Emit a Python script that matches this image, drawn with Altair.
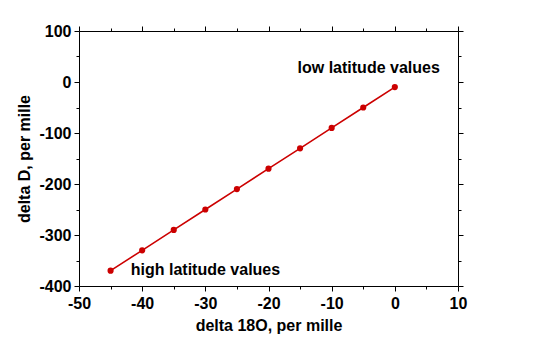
import altair as alt
import pandas as pd

# data
d18o = [-45, -40, -35, -30, -25, -20, -15, -10, -5, 0]
dD = [-370, -330, -290, -250, -210, -170, -130, -90, -50, -10]

note_text = ["low latitude values", "high latitude values"]
note_x = [-15.4, -41.8]
note_y = [17, -378]

df = pd.DataFrame({"x": d18o, "y": dD})
notes = pd.DataFrame({"t": note_text, "x": note_x, "y": note_y})

FONT = "Liberation Sans"
RED = "#cc0000"

xs = alt.Scale(domain=[-50, 10], nice=False, zero=False)
ys = alt.Scale(domain=[-400, 100], nice=False, zero=False)

xvals = list(range(-50, 11, 5))
yvals = list(range(-400, 101, 50))

def xaxis(orient, labels):
    return alt.Axis(
        orient=orient, values=xvals, grid=False,
        labels=labels, labelExpr="datum.value % 10 === 0 ? '' + datum.value : ''",
        labelFlush=False, labelOverlap=False, labelPadding=4,
        tickSize={"condition": {"test": "datum.value % 10 === 0", "value": 5}, "value": 3},
        title="delta 18O, per mille" if labels else None,
        titlePadding=6,
    )

def yaxis(orient, labels):
    return alt.Axis(
        orient=orient, values=yvals, grid=False,
        labels=labels, labelExpr="datum.value % 100 === 0 ? '' + datum.value : ''",
        labelFlush=False, labelOverlap=False, labelPadding=3,
        tickSize={"condition": {"test": "datum.value % 100 === 0", "value": 5}, "value": 3},
        title="delta D, per mille" if labels else None,
        titlePadding=6,
    )

base = alt.Chart(df)

line = base.mark_line(color=RED, strokeWidth=1.6).encode(
    x=alt.X("x:Q", scale=xs, axis=xaxis("bottom", True)),
    y=alt.Y("y:Q", scale=ys, axis=yaxis("left", True)),
)

pts = base.mark_circle(color=RED, size=38, opacity=1).encode(
    x=alt.X("x:Q", scale=xs, axis=None),
    y=alt.Y("y:Q", scale=ys, axis=None),
)

mirror = base.mark_point(opacity=0).encode(
    x=alt.X("x:Q", scale=xs, axis=xaxis("top", False)),
    y=alt.Y("y:Q", scale=ys, axis=yaxis("right", False)),
)

txt = alt.Chart(notes).mark_text(
    align="left", baseline="alphabetic", font=FONT, fontSize=16,
    fontWeight="bold", color="black",
).encode(
    x=alt.X("x:Q", scale=xs, axis=None),
    y=alt.Y("y:Q", scale=ys, axis=None),
    text="t:N",
)

chart = (
    alt.layer(line, pts, mirror, txt)
    .resolve_axis(x="independent", y="independent")
    .properties(
        width=379, height=255,
        padding={"left": 71, "top": 23, "right": 60, "bottom": 60},
        autosize=alt.AutoSizeParams(type="none"),
    )
    .configure_view(strokeWidth=0)
    .configure_axis(
        domainColor="black", tickColor="black", labelColor="black",
        titleColor="black", labelFont=FONT, titleFont=FONT,
        labelFontSize=16, titleFontSize=16, labelFontWeight="bold",
        titleFontWeight="bold", domainWidth=1, tickWidth=1,
    )
)

chart.save("out.html", embed_options={"renderer": "svg", "actions": False})
